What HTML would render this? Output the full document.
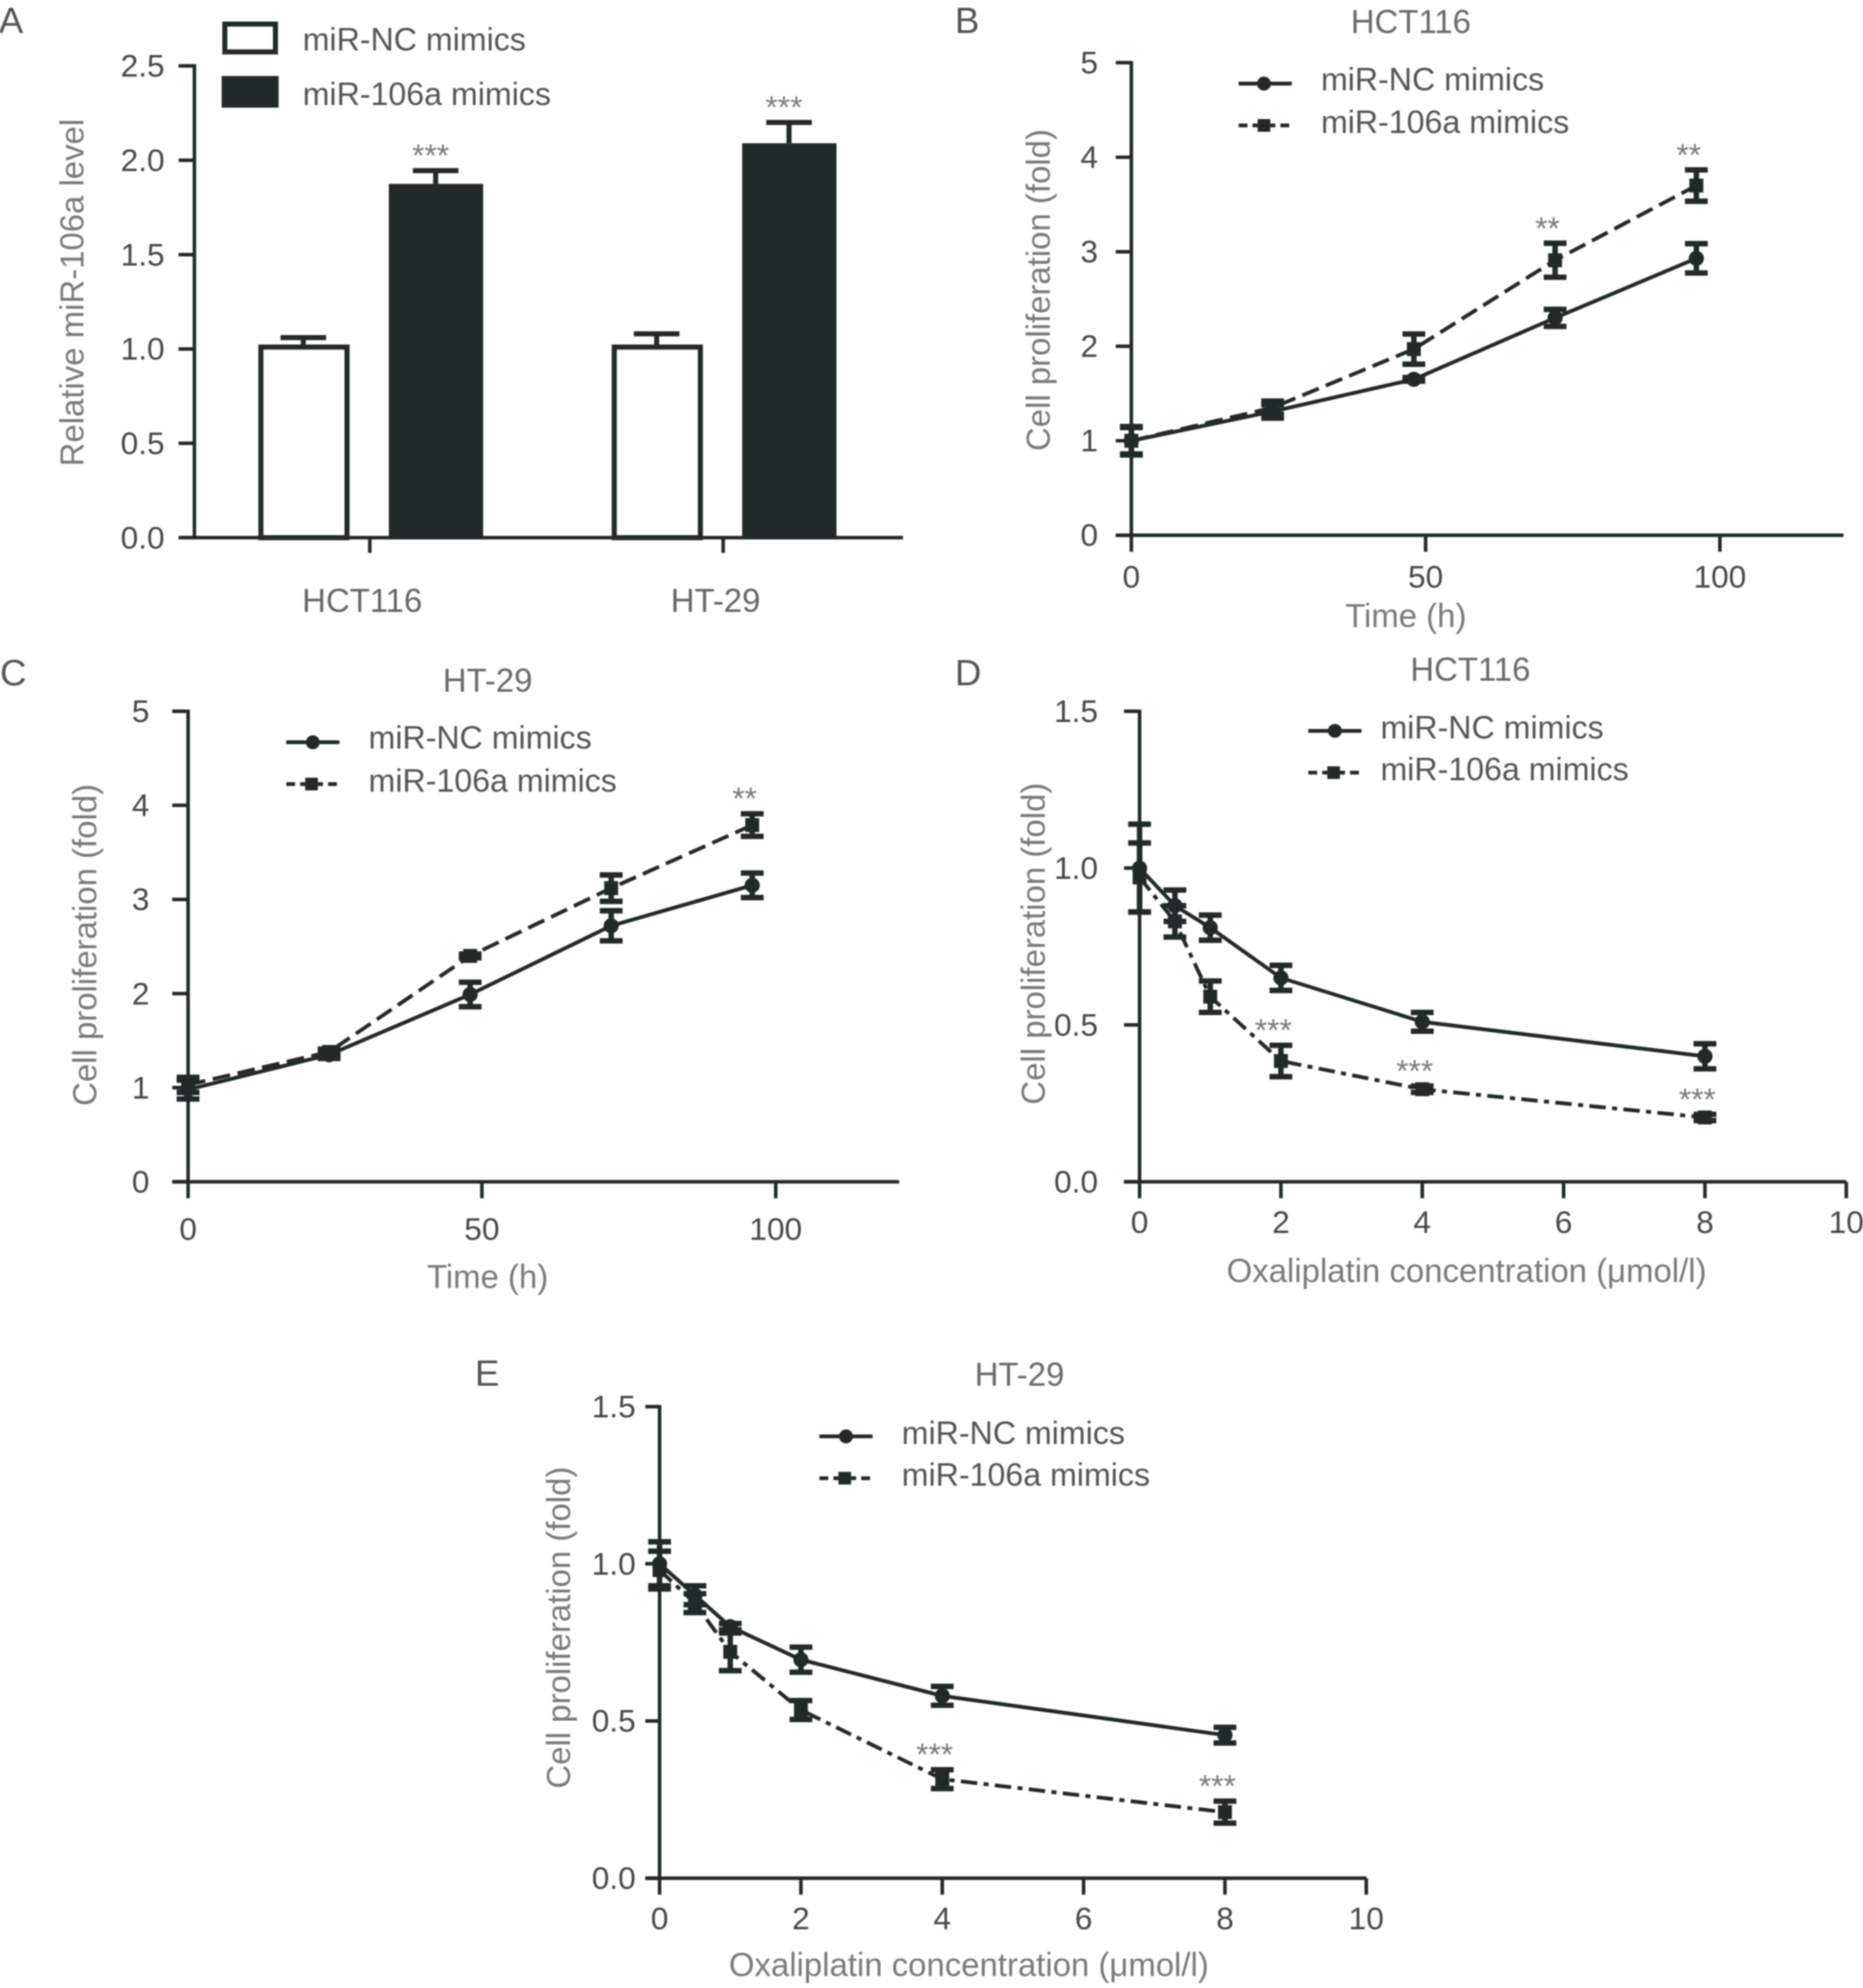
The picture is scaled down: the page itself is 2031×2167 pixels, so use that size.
<!DOCTYPE html>
<html lang="en">
<head>
<meta charset="utf-8">
<title>miR-106a figure</title>
<style>
html,body{margin:0;padding:0;background:#fff;}
body{width:2031px;height:2167px;overflow:hidden;}
svg{display:block;filter:blur(0.7px);}
text{font-family:"Liberation Sans",Arial,sans-serif;font-size:25px;}
.letter{fill:#555;font-size:29px;}
.title{fill:#6a6a6a;text-anchor:middle;font-size:26px;}
.axis-title{fill:#7a7a7a;text-anchor:middle;font-size:26px;}
.legend-text{fill:#555;font-size:25.4px;}
</style>
</head>
<body>
<svg id="figure" xmlns="http://www.w3.org/2000/svg" width="2031" height="2167" viewBox="0 0 1471 1569.5">
  <rect x="0" y="0" width="1471" height="1569.5" fill="#fff"/>

  <g id="panel-a">
    <text class="letter" x="-1" y="26">A</text>
    <rect x="177.5" y="19" width="40" height="22" fill="#fff" stroke="#212a28" stroke-width="4"/>
    <rect x="175" y="60" width="45" height="25" fill="#212a28"/>
    <text class="legend-text" x="239" y="40">miR-NC mimics</text>
    <text class="legend-text" x="239" y="83">miR-106a mimics</text>
    <text class="axis-title" transform="translate(66 231) rotate(-90)">Relative miR-106a level</text>
  </g>

  <g id="panel-b">
    <text class="letter" x="754" y="26">B</text>
    <text class="title" x="1114" y="26">HCT116</text>
    <text class="axis-title" x="1110" y="495">Time (h)</text>
    <text class="axis-title" transform="translate(829 229) rotate(-90)">Cell proliferation (fold)</text>
    <g>
      <line x1="978" x2="1020" y1="66" y2="66" stroke="#212a28" stroke-width="3"/>
      <circle cx="998" cy="66" r="5.5" fill="#212a28"/>
      <text class="legend-text" x="1043" y="71.5">miR-NC mimics</text>
      <line x1="978" x2="1020" y1="99" y2="99" stroke="#212a28" stroke-width="3" stroke-dasharray="7 4"/>
      <rect x="993" y="94" width="10" height="10" fill="#212a28"/>
      <text class="legend-text" x="1043" y="105">miR-106a mimics</text>
    </g>
  </g>

  <g id="panel-c">
    <text class="letter" x="0" y="541">C</text>
    <text class="title" x="385" y="546">HT-29</text>
    <text class="axis-title" x="385" y="1017">Time (h)</text>
    <text class="axis-title" transform="translate(76 746) rotate(-90)">Cell proliferation (fold)</text>
    <g>
      <line x1="226" x2="268" y1="586" y2="586" stroke="#212a28" stroke-width="3"/>
      <circle cx="247" cy="586" r="5.5" fill="#212a28"/>
      <text class="legend-text" x="291" y="591">miR-NC mimics</text>
      <line x1="226" x2="268" y1="619" y2="619" stroke="#212a28" stroke-width="3" stroke-dasharray="7 4"/>
      <rect x="241" y="614" width="10" height="10" fill="#212a28"/>
      <text class="legend-text" x="291" y="625">miR-106a mimics</text>
    </g>
  </g>

  <g id="panel-d">
    <text class="letter" x="754" y="541">D</text>
    <text class="title" x="1161" y="537.5">HCT116</text>
    <text class="axis-title" x="1158" y="1012">Oxaliplatin concentration (μmol/l)</text>
    <text class="axis-title" transform="translate(825 745) rotate(-90)">Cell proliferation (fold)</text>
    <g>
      <line x1="1033" x2="1075" y1="577" y2="577" stroke="#212a28" stroke-width="3"/>
      <circle cx="1054" cy="577" r="5.5" fill="#212a28"/>
      <text class="legend-text" x="1090" y="583">miR-NC mimics</text>
      <line x1="1033" x2="1075" y1="610" y2="610" stroke="#212a28" stroke-width="3" stroke-dasharray="7 4"/>
      <rect x="1048" y="605" width="10" height="10" fill="#212a28"/>
      <text class="legend-text" x="1090" y="616">miR-106a mimics</text>
    </g>
  </g>

  <g id="panel-e">
    <text class="letter" x="375" y="1094">E</text>
    <text class="title" x="805" y="1094">HT-29</text>
    <text class="axis-title" x="765" y="1560">Oxaliplatin concentration (μmol/l)</text>
    <text class="axis-title" transform="translate(450 1285) rotate(-90)">Cell proliferation (fold)</text>
    <g>
      <line x1="647" x2="689" y1="1134" y2="1134" stroke="#212a28" stroke-width="3"/>
      <circle cx="668" cy="1134" r="5.5" fill="#212a28"/>
      <text class="legend-text" x="712" y="1140">miR-NC mimics</text>
      <line x1="647" x2="689" y1="1167" y2="1167" stroke="#212a28" stroke-width="3" stroke-dasharray="7 4"/>
      <rect x="662" y="1162" width="10" height="10" fill="#212a28"/>
      <text class="legend-text" x="712" y="1173">miR-106a mimics</text>
    </g>
  </g>
</svg>

<script>
// Panel A data
const aCategories = ['HCT116', 'HT-29'];
const aControlValues = [1.01, 1.01];
const aControlErrors = [0.05, 0.07];
const aMimicValues = [1.875, 2.09];
const aMimicErrors = [0.07, 0.11];
const aStars = ['***', '***'];
const aYTicks = ['0.0', '0.5', '1.0', '1.5', '2.0', '2.5'];

// Panel B data
const bDoses = [0, 24, 48, 72, 96];
const bControlValues = [1.0, 1.31, 1.65, 2.3, 2.93];
const bControlErrors = [0.14, 0.07, 0.02, 0.09, 0.155];
const bMimicValues = [1.0, 1.35, 1.97, 2.91, 3.7];
const bMimicErrors = [0.15, 0.07, 0.16, 0.18, 0.166];
const bStars = ['', '', '', '**', '**'];
const bXTicks = ['0', '50', '100'];
const bYTicks = ['0', '1', '2', '3', '4', '5'];

// Panel C data
const cDoses = [0, 24, 48, 72, 96];
const cControlValues = [0.98, 1.35, 1.99, 2.72, 3.15];
const cControlErrors = [0.1, 0.04, 0.13, 0.16, 0.13];
const cMimicValues = [1.03, 1.38, 2.4, 3.12, 3.79];
const cMimicErrors = [0.08, 0.03, 0.02, 0.14, 0.12];
const cStars = ['', '', '', '', '**'];
const cXTicks = ['0', '50', '100'];
const cYTicks = ['0', '1', '2', '3', '4', '5'];

// Panel D data
const dDoses = [0, 0.5, 1, 2, 4, 8];
const dControlValues = [1.0, 0.88, 0.81, 0.65, 0.51, 0.4];
const dControlErrors = [0.14, 0.05, 0.04, 0.04, 0.03, 0.04];
const dMimicValues = [0.97, 0.83, 0.59, 0.385, 0.295, 0.205];
const dMimicErrors = [0.11, 0.05, 0.05, 0.05, 0.01, 0.01];
const dStars = ['', '', '', '***', '***', '***'];
const dXTicks = ['0', '2', '4', '6', '8', '10'];
const dYTicks = ['0.0', '0.5', '1.0', '1.5'];

// Panel E data
const eDoses = [0, 0.5, 1, 2, 4, 8];
const eControlValues = [1.0, 0.9, 0.8, 0.695, 0.58, 0.455];
const eControlErrors = [0.07, 0.03, 0.01, 0.04, 0.03, 0.025];
const eMimicValues = [0.98, 0.875, 0.72, 0.535, 0.315, 0.21];
const eMimicErrors = [0.06, 0.03, 0.06, 0.03, 0.03, 0.035];
const eStars = ['', '', '', '', '***', '***'];
const eXTicks = ['0', '2', '4', '6', '8', '10'];
const eYTicks = ['0.0', '0.5', '1.0', '1.5'];

const INK = '#212a28';
const SVG_NS = 'http://www.w3.org/2000/svg';

function addNode(parent, tag, props, content) {
  const node = document.createElementNS(SVG_NS, tag);
  Object.keys(props).forEach(function (k) { node.setAttribute(k, props[k]); });
  if (content !== undefined) node.textContent = content;
  parent.appendChild(node);
  return node;
}

function linearScale(d0, d1, r0, r1) {
  return function (v) { return r0 + (v - d0) * (r1 - r0) / (d1 - d0); };
}

function drawYAxis(group, labels, yScale, axisX, topY, bottomY, tickLeft, labelRight) {
  let el = addNode(group, 'line', { x1: axisX, x2: axisX, y1: topY - 1.3, y2: bottomY + 1.3, stroke: INK, 'stroke-width': 2.8 });
  
  
  labels.forEach(function (label) {
    const y = yScale(parseFloat(label));
    let tick = addNode(group, 'line', { x1: tickLeft, x2: axisX, y1: y, y2: y, stroke: INK, 'stroke-width': 2.8 });
    
    
    let txt = addNode(group, 'text', { x: labelRight, y: y + 8.5, 'text-anchor': 'end', fill: '#484848' }, label);
    
    
  });
}

function drawXAxisLine(group, x0, x1, y) {
  let el = addNode(group, 'line', { x1: x0, x2: x1, y1: y, y2: y, stroke: INK, 'stroke-width': 2.8 });
  
  
}

function drawLineChart(cfg) {
  const group = document.getElementById(cfg.id);
  const x = linearScale(0, cfg.xMax, cfg.x0, cfg.x1);
  const y = linearScale(0, cfg.yMax, cfg.yBottom, cfg.yTop);

  drawXAxisLine(group, cfg.tickLeft, x(cfg.xEnd), cfg.yBottom);
  drawYAxis(group, cfg.yTicks, y, cfg.x0, cfg.yTop, cfg.yBottom, cfg.tickLeft, cfg.yLabelRight);

  cfg.xTicks.forEach(function (label) {
    const tx = x(parseFloat(label));
    let tick = addNode(group, 'line', { x1: tx, x2: tx, y1: cfg.yBottom, y2: cfg.yBottom + 13, stroke: INK, 'stroke-width': 2.8 });
    
    
    let txt = addNode(group, 'text', { x: tx, y: cfg.xLabelY, 'text-anchor': 'middle', fill: '#484848' }, label);
    
    
  });

  function drawSeries(values, errors, name, dash, marker) {
    const points = values.map(function (v, i) { return x(cfg.doses[i]) + ',' + y(v); }).join(' ');
    const lineProps = { points: points, fill: 'none', stroke: INK, 'stroke-width': 3 };
    if (dash) lineProps['stroke-dasharray'] = dash;
    let line = addNode(group, 'polyline', lineProps);
    
    
    values.forEach(function (v, i) {
      const px = x(cfg.doses[i]);
      const hi = y(v + errors[i]);
      const lo = y(v - errors[i]);
      const d = 'M' + px + ' ' + lo + 'V' + hi + 'M' + (px - 9) + ' ' + hi + 'H' + (px + 9) + 'M' + (px - 9) + ' ' + lo + 'H' + (px + 9);
      let bar = addNode(group, 'path', { d: d, fill: 'none', stroke: INK, 'stroke-width': 4.3 });
      
      
      let mark;
      if (marker === 'circle') {
        mark = addNode(group, 'circle', { cx: px, cy: y(v), r: 6, fill: INK });
      } else {
        mark = addNode(group, 'rect', { x: px - 5.5, y: y(v) - 5.5, width: 11, height: 11, fill: INK });
      }
      
      
    });
  }

  drawSeries(cfg.controlValues, cfg.controlErrors, 'nc', '', 'circle');
  drawSeries(cfg.mimicValues, cfg.mimicErrors, '106a', cfg.dash, 'square');

  cfg.stars.forEach(function (s, i) {
    if (!s) return;
    const px = x(cfg.doses[i]) - 6;
    const py = y(cfg.mimicValues[i] + cfg.mimicErrors[i]) - 3.5;
    let star = addNode(group, 'text', { x: px, y: py, 'text-anchor': 'middle', fill: '#7a7a7a' }, s);
    
    
  });
}

function drawBarChart() {
  const group = document.getElementById('panel-a');
  const y = linearScale(0, 2.5, 424.5, 52);
  const catX = linearScale(0, 1, 292, 571);

  aCategories.forEach(function (cat, i) {
    const cx = catX(i);
    const topA = y(aControlValues[i]);
    const capA = y(aControlValues[i] + aControlErrors[i]);
    let errA = addNode(group, 'path', { d: 'M' + (cx - 52.5) + ' ' + topA + 'V' + capA + 'M' + (cx - 70.5) + ' ' + capA + 'H' + (cx - 34.5), fill: 'none', stroke: INK, 'stroke-width': 4 });
    
    
    let barA = addNode(group, 'rect', { x: cx - 86, y: topA, width: 68, height: 424.5 - topA, fill: '#fff', stroke: INK, 'stroke-width': 4 });
    
    

    const topB = y(aMimicValues[i]);
    const capB = y(aMimicValues[i] + aMimicErrors[i]);
    let errB = addNode(group, 'path', { d: 'M' + (cx + 52) + ' ' + topB + 'V' + capB + 'M' + (cx + 34) + ' ' + capB + 'H' + (cx + 70), fill: 'none', stroke: INK, 'stroke-width': 4 });
    
    
    let barB = addNode(group, 'rect', { x: cx + 15, y: topB, width: 74.5, height: 424.5 - topB, fill: INK });
    
    

    let star = addNode(group, 'text', { x: cx + 48, y: capB - 3.5, 'text-anchor': 'middle', fill: '#7a7a7a' }, aStars[i]);
    
    

    let tick = addNode(group, 'line', { x1: cx, x2: cx, y1: 424.5, y2: 436.5, stroke: INK, 'stroke-width': 2.8 });
    
    
    let label = addNode(group, 'text', { x: cx - 6, y: 483, 'text-anchor': 'middle', fill: '#666', style: 'font-size:26px' }, cat);
    
    
  });

  drawXAxisLine(group, 143, 713, 424.5);
  drawYAxis(group, aYTicks, y, 153.5, 52, 424.5, 141, 130);
}

drawBarChart();

drawLineChart({ id: 'panel-b', doses: bDoses, controlValues: bControlValues, controlErrors: bControlErrors,
  mimicValues: bMimicValues, mimicErrors: bMimicErrors, stars: bStars, xTicks: bXTicks, yTicks: bYTicks,
  xMax: 100, yMax: 5, xEnd: 121, x0: 893.3, x1: 1358, yBottom: 422.6, yTop: 49.5, tickLeft: 881, yLabelRight: 867, xLabelY: 464, dash: '14 6' });

drawLineChart({ id: 'panel-c', doses: cDoses, controlValues: cControlValues, controlErrors: cControlErrors,
  mimicValues: cMimicValues, mimicErrors: cMimicErrors, stars: cStars, xTicks: cXTicks, yTicks: cYTicks,
  xMax: 100, yMax: 5, xEnd: 121, x0: 148.5, x1: 612.5, yBottom: 933, yTop: 561.5, tickLeft: 136, yLabelRight: 118, xLabelY: 979, dash: '14 6' });

drawLineChart({ id: 'panel-d', doses: dDoses, controlValues: dControlValues, controlErrors: dControlErrors,
  mimicValues: dMimicValues, mimicErrors: dMimicErrors, stars: dStars, xTicks: dXTicks, yTicks: dYTicks,
  xMax: 10, yMax: 1.5, xEnd: 10, x0: 899.8, x1: 1457.8, yBottom: 933, yTop: 561.5, tickLeft: 887.5, yLabelRight: 867, xLabelY: 973.5, dash: '13 5 4 5' });

drawLineChart({ id: 'panel-e', doses: eDoses, controlValues: eControlValues, controlErrors: eControlErrors,
  mimicValues: eMimicValues, mimicErrors: eMimicErrors, stars: eStars, xTicks: eXTicks, yTicks: eYTicks,
  xMax: 10, yMax: 1.5, xEnd: 10, x0: 520.8, x1: 1078.8, yBottom: 1482.8, yTop: 1110.5, tickLeft: 509.5, yLabelRight: 502, xLabelY: 1523, dash: '13 5 4 5' });
</script>
</body>
</html>
